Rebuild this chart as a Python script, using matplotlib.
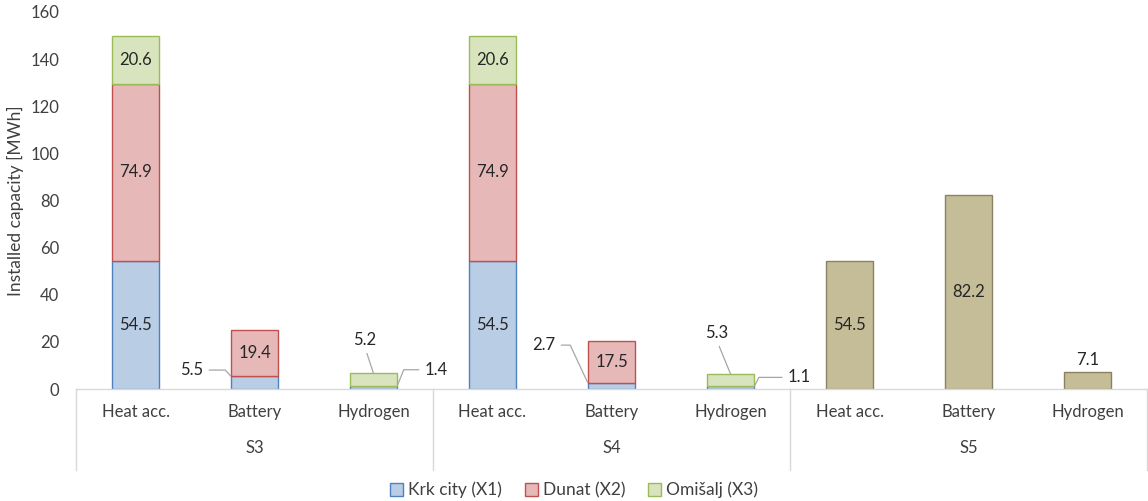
import numpy as np
import matplotlib.pyplot as plt
from matplotlib.patches import Patch
from matplotlib.transforms import blended_transform_factory

plt.rcParams['font.family'] = ['Lato', 'DejaVu Sans']

# данные
categories = ['Heat acc.', 'Battery', 'Hydrogen'] * 3
groups = ['S3', 'S4', 'S5']
krk = [54.5, 5.5, 1.4, 54.5, 2.7, 1.1, 0, 0, 0]
dunat = [74.9, 19.4, 0, 74.9, 17.5, 0, 0, 0, 0]
omisalj = [20.6, 0, 5.2, 20.6, 0, 5.3, 0, 0, 0]
s5_total = [0, 0, 0, 0, 0, 0, 54.5, 82.2, 7.1]
series_names = ['Krk city (X1)', 'Dunat (X2)', 'Omišalj (X3)']

fills = ['#B9CDE5', '#E6B9B8', '#D7E4BD']
edges = ['#4F81BD', '#C0504D', '#9BBB59']
s5_fill, s5_edge = '#C4BD97', '#8A8263'
txt = '#262626'
lab = '#404040'
lead = '#A6A6A6'
fs = 12

fig = plt.figure(figsize=(11.48, 5.01), dpi=100)
ax = fig.add_axes([76 / 1148, 112 / 501, 1071 / 1148, 377 / 501])

x = np.arange(len(categories))
w = 0.4
stack = [np.array(krk), np.array(dunat), np.array(omisalj)]
bottom = np.zeros(len(x))
for vals, fc, ec in zip(stack, fills, edges):
    m = vals > 0
    ax.bar(x[m], vals[m], w, bottom=bottom[m], color=fc, edgecolor=ec, linewidth=1)
    # подписи внутри крупных сегментов
    for i in x[m]:
        if vals[i] > 10:
            ax.text(i, bottom[i] + vals[i] / 2, f'{vals[i]:.1f}', ha='center', va='center',
                    fontsize=fs, color=txt)
    bottom = bottom + vals

s5 = np.array(s5_total)
m = s5 > 0
ax.bar(x[m], s5[m], w, color=s5_fill, edgecolor=s5_edge, linewidth=1)
for i in x[m]:
    if s5[i] > 10:
        ax.text(i, s5[i] / 2, f'{s5[i]:.1f}', ha='center', va='center', fontsize=fs, color=txt)
    else:
        ax.annotate(f'{s5[i]:.1f}', (i, s5[i]), xytext=(0, 3), textcoords='offset points',
                    ha='center', va='bottom', fontsize=fs, color=txt)


# выноски для маленьких сегментов
def callout(i, y, dx, dy, ha, relpos, conn):
    ax.annotate(f'{y[1]:.1f}', (i, y[0]), xytext=(dx, dy), textcoords='offset points',
                ha=ha, va='center', fontsize=fs, color=txt,
                arrowprops=dict(arrowstyle='-', color=lead, lw=0.9, shrinkA=2, shrinkB=0,
                                relpos=relpos, connectionstyle=conn))


callout(1 - w / 2, (krk[1], krk[1]), -19.5, 4.3, 'right', (1, 0.5), 'angle,angleA=0,angleB=132,rad=0')
callout(2 + w / 2, (krk[2], krk[2]), 19.5, 11.5, 'left', (0, 0.5), 'angle,angleA=180,angleB=68,rad=0')
callout(2, (krk[2] + omisalj[2], omisalj[2]), -6, 24, 'center', (0.5, 0), 'arc3')
callout(4 - w / 2, (krk[4], krk[4]), -23, 27, 'right', (1, 0.5), 'angle,angleA=0,angleB=115,rad=0')
callout(5, (krk[5] + omisalj[5], omisalj[5]), -9.7, 29.5, 'center', (0.5, 0), 'arc3')
callout(5 + w / 2, (krk[5], krk[5]), 24, 6.5, 'left', (0, 0.5), 'angle,angleA=180,angleB=63,rad=0')

ax.set_xlim(-0.5, len(x) - 0.5)
ax.set_ylim(0, 160)
ax.set_yticks(range(0, 161, 20))
ax.tick_params(axis='y', length=0, pad=12, labelsize=fs, labelcolor=lab)
ax.set_xticks(x)
ax.set_xticklabels(categories)
ax.tick_params(axis='x', length=0, pad=11, labelsize=fs, labelcolor=lab)
for s in ax.spines.values():
    s.set_visible(False)
ax.set_ylabel('Installed capacity [MWh]', fontsize=12.5, color=lab, labelpad=5)

# многоуровневая ось категорий
tr = blended_transform_factory(ax.transData, ax.transAxes)
ax.plot([-0.5, len(x) - 0.5], [0, 0], color='#D9D9D9', lw=1, transform=tr, clip_on=False)
for b in [-0.5, 2.5, 5.5, 8.5]:
    ax.plot([b, b], [0, -0.215], color='#D9D9D9', lw=1, transform=tr, clip_on=False)
for k, g in enumerate(groups):
    ax.text(3 * k + 1, -0.156, g, transform=tr, ha='center', va='center', fontsize=fs, color=lab)

handles = [Patch(facecolor=fc, edgecolor=ec) for fc, ec in zip(fills, edges)]
fig.legend(handles, series_names, loc='center', bbox_to_anchor=(0.5, 11 / 501), ncol=3, frameon=False,
           fontsize=12.5, handlelength=0.75, handleheight=0.75, handletextpad=0.3, columnspacing=1.3,
           labelcolor=lab)

plt.savefig('out.png', dpi=100)
